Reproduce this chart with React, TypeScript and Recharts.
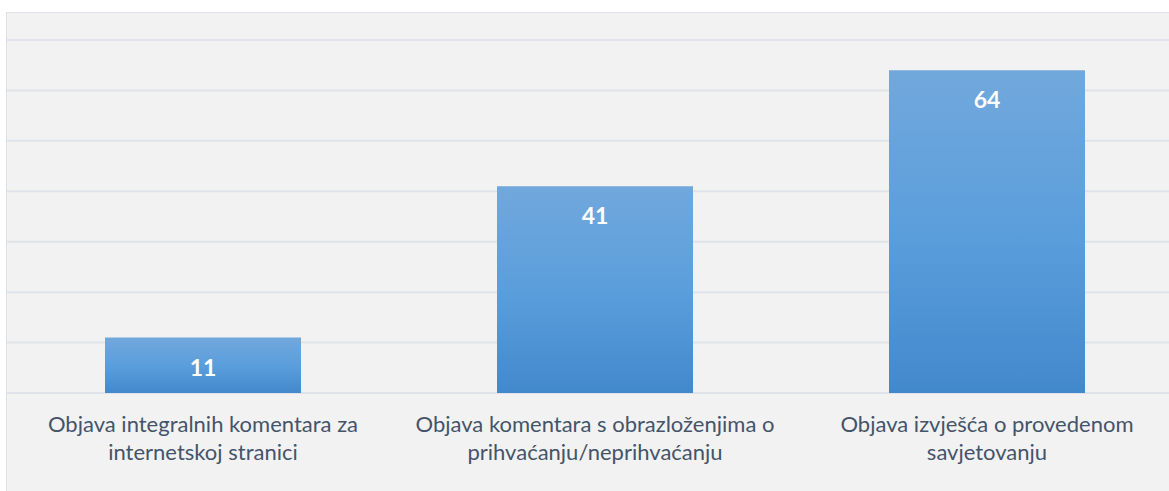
import React from 'react'
import { BarChart, Bar, XAxis, YAxis, CartesianGrid, LabelList } from 'recharts'

const categories = [
  ['Objava integralnih komentara za', 'internetskoj stranici'],
  ['Objava komentara s obrazloženjima o', 'prihvaćanju/neprihvaćanju'],
  ['Objava izvješća o provedenom', 'savjetovanju'],
]
const values = [11, 41, 64]
const yTicks = [0, 10, 20, 30, 40, 50, 60, 70]

const data = categories.map((c, i) => ({ key: String(i), lines: c, value: values[i] }))

const FONT = 'Lato, "Open Sans", sans-serif'

function CatTick(props: any) {
  const { x, y, payload } = props
  const lines: string[] = categories[Number(payload.value)] ?? []
  return (
    <g>
      {lines.map((l, i) => (
        <text key={i} x={x} y={y + 39 + i * 28} textAnchor="middle" fill="#44546a" fontSize={22} fontFamily={FONT}>{l}</text>
      ))}
    </g>
  )
}

function ValueLabel(props: any) {
  const { x, y, width, value } = props
  return (
    <text x={x + width / 2} y={y + 38} textAnchor="middle" fill="#fff" fontSize={23} fontWeight={700} fontFamily={FONT}>{value}</text>
  )
}

export default function App() {
  return (
    <div style={{ position: 'absolute', left: 0, top: 0, width: 1169, height: 491, overflow: 'hidden', background: '#fff' }}>
      <div style={{ position: 'absolute', left: 6, top: 12, width: 1200, height: 490, background: '#f2f2f2', borderTop: '1px solid #dde2e8', borderLeft: '1px solid #dde2e8' }}>
        <BarChart width={1198} height={479} data={data} margin={{ top: 27, right: 22, left: 0, bottom: 0 }} barCategoryGap="25%">
          <defs>
            <linearGradient id="barGrad" x1="0" y1="0" x2="0" y2="1">
              <stop offset="0%" stopColor="#71a8dc" />
              <stop offset="50%" stopColor="#5b9edc" />
              <stop offset="100%" stopColor="#4289cc" />
            </linearGradient>
          </defs>
          <CartesianGrid vertical={false} stroke="#dfe3e9" strokeWidth={2} />
          <YAxis hide domain={[0, 70]} ticks={yTicks} />
          <XAxis dataKey="key" axisLine={false} tickLine={false} tickSize={0} tickMargin={0} height={99} interval={0} tick={<CatTick />} />
          <Bar dataKey="value" fill="url(#barGrad)" isAnimationActive={false}>
            <LabelList dataKey="value" content={<ValueLabel />} />
          </Bar>
        </BarChart>
      </div>
    </div>
  )
}
